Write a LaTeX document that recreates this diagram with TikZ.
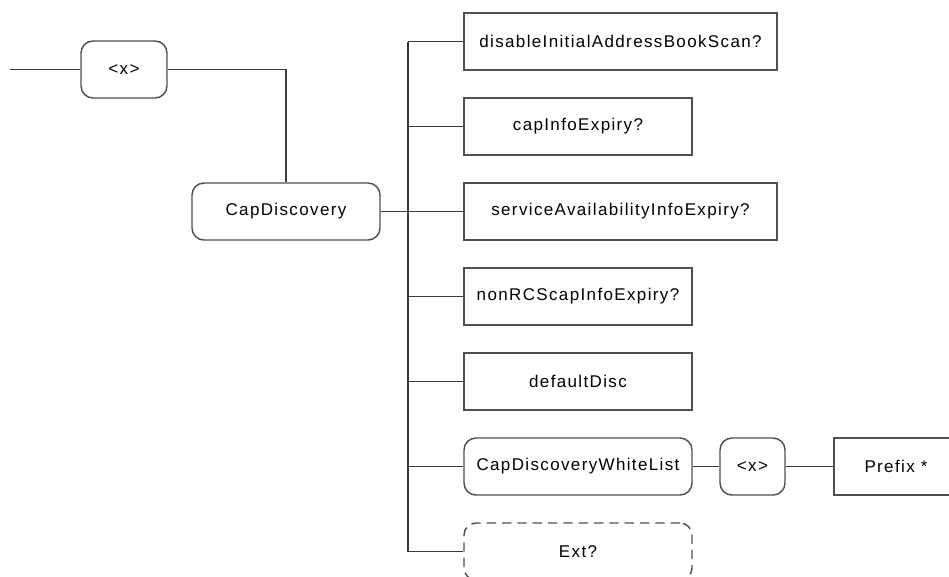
\documentclass[tikz,border=0pt]{standalone}
\usepackage{fontspec}
\setmainfont{Liberation Sans}[LetterSpace=8]
\definecolor{boxgray}{HTML}{505050}
\definecolor{linegray}{HTML}{3A3A3A}
\begin{document}
\begin{tikzpicture}[x=0.75pt,y=-0.75pt]
  \tikzstyle{every node}=[font=\fontsize{12.75pt}{15pt}\selectfont,draw=boxgray,line width=1.1pt,minimum height=42.75pt,inner sep=0pt]
  \tikzstyle{elem}=[rectangle]
  \tikzstyle{seq}=[rectangle,rounded corners=9pt]
  \tikzstyle{opt}=[rectangle,rounded corners=9pt,dash pattern=on 7pt off 4.5pt]
  \tikzstyle{wire}=[draw=linegray,line width=1.1pt]
  \useasboundingbox (0,0) rectangle (949,576);
  \clip (0,0) rectangle (949,576);
  \coordinate (start) at (10,69.5);
  \node [seq,minimum width=64.5pt] (xa) at (124,69.5) {<x>};
  \node [seq,minimum width=141pt] (capdisc) at (286,211.5) {CapDiscovery};
  % children on the spine
  \node [elem,minimum width=234.75pt] (scan)   at (620.5,41.5) {disableInitialAddressBookScan?};
  \node [elem,minimum width=171pt]    (capinf) at (578,126.5)  {capInfoExpiry?};
  \node [elem,minimum width=234.75pt] (servav) at (620.5,211.5) {serviceAvailabilityInfoExpiry?};
  \node [elem,minimum width=171pt]    (nonrcs) at (578,296.5)  {nonRCScapInfoExpiry?};
  \node [elem,minimum width=171pt]    (defd)   at (578,381.5)  {defaultDisc};
  \node [seq,minimum width=171pt]     (white)  at (578,466.5)  {CapDiscoveryWhiteList};
  \node [opt,minimum width=171pt]     (ext)    at (578,551.5)  {Ext?};
  \node [seq,minimum width=48.75pt]   (xb)     at (752.5,466.5) {<x>};
  \node [elem,minimum width=93pt]     (prefix) at (896,466.5)  {Prefix *};
  \coordinate (spine) at (408,211.5);
  \draw [wire] (start) -- (xa.west);
  \draw [wire] (xa.east) -| (capdisc.north);
  \draw [wire] (capdisc.east) -- (spine);
  \draw [wire] (spine |- scan.west) -- (spine |- ext.west);
  \foreach \n in {scan,capinf,servav,nonrcs,defd,white,ext}
    \draw [wire] (spine |- \n.west) -- (\n.west);
  \draw [wire] (white.east) -- (xb.west);
  \draw [wire] (xb.east) -- (prefix.west);
\end{tikzpicture}
\end{document}
